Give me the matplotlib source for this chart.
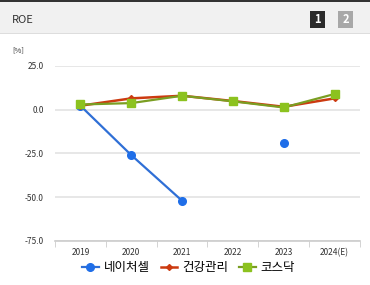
import numpy as np
import matplotlib
matplotlib.use("Agg")
import matplotlib.pyplot as plt
from matplotlib.patches import Rectangle

plt.rcParams['font.family'] = ['Noto Sans CJK KR', 'DejaVu Sans']

years = ["2019", "2020", "2021", "2022", "2023", "2024(E)"]
naturecell = [2.3, -25.9, -52.0, np.nan, -19.2, np.nan]
health = [2.3, 6.5, 8.0, 5.0, 1.7, 6.5]
kosdaq = [3.0, 3.8, 8.0, 4.8, 1.3, 9.0]
yticks = [25.0, 0.0, -25.0, -50.0, -75.0]

fig = plt.figure(figsize=(3.7, 2.85), dpi=100)

# header bar
fig.patches.append(Rectangle((0, 1 - 33 / 285), 1, 33 / 285, transform=fig.transFigure,
                             facecolor="#f1f1f1", edgecolor="none", zorder=0))
fig.patches.append(Rectangle((0, 1 - 2 / 285), 1, 2 / 285, transform=fig.transFigure,
                             facecolor="#333333", edgecolor="none", zorder=1))
fig.patches.append(Rectangle((0, 1 - 34 / 285), 1, 1 / 285, transform=fig.transFigure,
                             facecolor="#dddddd", edgecolor="none", zorder=1))
fig.text(12 / 370, 1 - 20 / 285, "ROE", fontsize=8, color="#333333", va="center")
fig.patches.append(Rectangle((310 / 370, 1 - 28 / 285), 15 / 370, 17 / 285, transform=fig.transFigure,
                             facecolor="#2b2b2b", edgecolor="none", zorder=1))
fig.patches.append(Rectangle((338 / 370, 1 - 28 / 285), 15 / 370, 17 / 285, transform=fig.transFigure,
                             facecolor="#a8a8a8", edgecolor="none", zorder=1))
fig.text(317.5 / 370, 1 - 19.5 / 285, "1", fontsize=8, color="white", ha="center", va="center",
         fontweight="bold", zorder=2)
fig.text(345.5 / 370, 1 - 19.5 / 285, "2", fontsize=8, color="white", ha="center", va="center",
         fontweight="bold", zorder=2)

ax = fig.add_axes([55 / 370, 1 - 241 / 285, 305 / 370, 175 / 285])
x = np.arange(len(years))

ax.plot(x, naturecell, color="#2f6fd6", lw=1.6, marker="o", ms=5.5,
        markerfacecolor="#1f6ee8", markeredgecolor="#1f6ee8", label="네이처셀", zorder=3)
ax.plot(x, health, color="#cc3a10", lw=1.8, marker="D", ms=3,
        markerfacecolor="#cc3a10", markeredgecolor="#cc3a10", label="건강관리", zorder=4)
ax.plot(x, kosdaq, color="#7a9e22", lw=1.6, marker="s", ms=6,
        markerfacecolor="#8cc21f", markeredgecolor="#8cc21f", label="코스닥", zorder=5)

ax.set_xlim(-0.5, 5.5)
ax.set_ylim(-75, 25)
ax.set_yticks(yticks)
ax.set_yticklabels([f"{v:.1f}" for v in yticks], fontsize=6, color="#333333")
ax.set_xticks(x)
ax.set_xticklabels(years, fontsize=6, color="#333333")
ax.set_xticks(np.arange(-0.5, 6.0, 1.0), minor=True)
ax.tick_params(axis="x", which="major", length=0, pad=5)
ax.tick_params(axis="x", which="minor", length=4, color="#cccccc", direction="out")
ax.tick_params(axis="y", length=0, pad=8)
ax.grid(axis="y", color="#e3e3e3", lw=1.2)
ax.set_axisbelow(True)
for s in ["top", "right", "left"]:
    ax.spines[s].set_visible(False)
ax.spines["bottom"].set_color("#cccccc")
ax.spines["bottom"].set_linewidth(1.2)

fig.text(12 / 370, 1 - 50 / 285, "[%]", fontsize=5.5, color="#333333", va="center")

fig.legend(loc="center", bbox_to_anchor=(0.51, 1 - 268 / 285), ncol=3, frameon=False,
           fontsize=9, handlelength=1.3, handletextpad=0.4, columnspacing=0.9)

fig.savefig("out.png", dpi=100)
